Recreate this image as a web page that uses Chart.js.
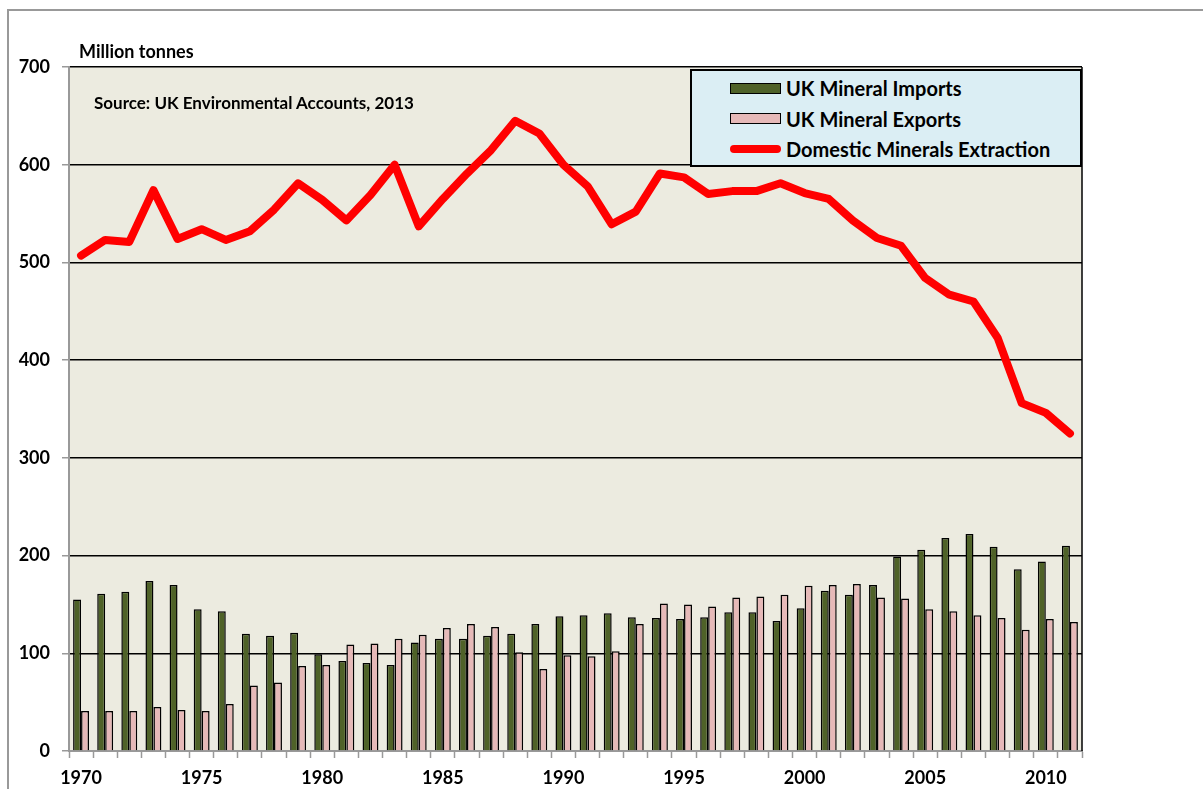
<!DOCTYPE html>
<html>
<head>
<meta charset="utf-8">
<script src="https://cdn.jsdelivr.net/npm/chart.js@4/dist/chart.umd.min.js"></script>
<style>
  body { margin: 0; background: #fff; font-family: Lato, "Open Sans", sans-serif; }
  #wrap { position: relative; width: 1203px; height: 789px; overflow: hidden; }
  #frame { position: absolute; left: 7px; top: 9px; width: 1300px; height: 900px;
    border-left: 2px solid #999; border-top: 2px solid #999; }
  canvas { position: absolute; left: 0; top: 0; }
  .txt { position: absolute; font-weight: bold; color: #000; white-space: nowrap; }
  #unit { left: 79px; top: 40px; font-size: 18px; }
  #source { left: 94px; top: 92px; font-size: 17px; }
  #legend { position: absolute; left: 690px; top: 69px; width: 388px; height: 94px;
    background: #dbeef4; border: 2px solid #000; }
  .item { position: absolute; left: 38px; height: 22px; display: flex; align-items: center;
    font-weight: bold; font-size: 20px; }
  .sw { width: 51px; height: 11px; margin-right: 5px; box-sizing: border-box; }
</style>
</head>
<body>
<div id="wrap">
  <div id="frame"></div>
  <canvas id="chart" width="1203" height="789"></canvas>
  <div class="txt" id="unit">Million tonnes</div>
  <div class="txt" id="source">Source: UK Environmental Accounts, 2013</div>
  <div id="legend"></div>
</div>
<script>
const years = [
  1970, 1971, 1972, 1973, 1974, 1975, 1976, 1977, 1978, 1979,
  1980, 1981, 1982, 1983, 1984, 1985, 1986, 1987, 1988, 1989,
  1990, 1991, 1992, 1993, 1994, 1995, 1996, 1997, 1998, 1999,
  2000, 2001, 2002, 2003, 2004, 2005, 2006, 2007, 2008, 2009,
  2010, 2011,
];

const imports = [
  155, 161, 163, 174, 170, 145, 143, 120, 118, 121,
  99, 92, 90, 88, 111, 115, 115, 118, 120, 130,
  138, 139, 141, 137, 136, 135, 137, 142, 142, 133,
  146, 164, 160, 170, 199, 206, 218, 222, 209, 186,
  194, 210,
];

const exportsUK = [
  41, 41, 41, 45, 42, 41, 48, 67, 70, 87,
  88, 109, 110, 115, 119, 126, 130, 127, 101, 84,
  98, 97, 102, 130, 151, 150, 148, 157, 158, 160,
  169, 170, 171, 157, 156, 145, 143, 139, 136, 124,
  135, 132,
];

const extraction = [
  507, 523, 521, 574, 524, 534, 523, 532, 554, 581,
  564, 543, 569, 600, 537, 565, 591, 615, 645, 632,
  600, 578, 539, 552, 591, 587, 570, 573, 573, 581,
  571, 565, 543, 525, 517, 484, 467, 460, 423, 356,
  346, 325,
];

const yTicks = [0, 100, 200, 300, 400, 500, 600, 700];

const COLORS = {
  imports: "#4f6228",
  exports: "#e6b9b8",
  line: "#ff0000",
  plot: "#ecebe0",
  axis: "#999999",
};

const FONT = { family: "Lato, 'Open Sans', sans-serif", size: 18, weight: "bold" };

// plot background and the black right edge of the plot area
const plotFrame = {
  id: "plotFrame",
  beforeDraw(chart) {
    const { ctx, chartArea: a } = chart;
    ctx.save();
    ctx.fillStyle = COLORS.plot;
    ctx.fillRect(a.left, a.top, a.right - a.left, a.bottom - a.top);
    ctx.restore();
  },
  afterDatasetsDraw(chart) {
    const { ctx, chartArea: a } = chart;
    ctx.save();
    ctx.strokeStyle = "#000";
    ctx.lineWidth = 1.5;
    ctx.beginPath();
    ctx.moveTo(a.right, a.top);
    ctx.lineTo(a.right, a.bottom);
    ctx.stroke();
    ctx.restore();
  },
};

const chart = new Chart(document.getElementById("chart"), {
  type: "bar",
  data: {
    labels: years,
    datasets: [
      {
        label: "UK Mineral Imports",
        data: imports,
        backgroundColor: COLORS.imports,
        borderColor: "#000",
        borderWidth: 1.5,
        categoryPercentage: 0.66,
        barPercentage: 1,
        order: 1,
      },
      {
        label: "UK Mineral Exports",
        data: exportsUK,
        backgroundColor: COLORS.exports,
        borderColor: "#000",
        borderWidth: 1.5,
        categoryPercentage: 0.66,
        barPercentage: 1,
        order: 1,
      },
      {
        type: "line",
        label: "Domestic Minerals Extraction",
        data: extraction,
        borderColor: COLORS.line,
        backgroundColor: COLORS.line,
        borderWidth: 8,
        pointRadius: 0,
        tension: 0,
        borderCapStyle: "round",
        borderJoinStyle: "round",
        order: 0,
      },
    ],
  },
  options: {
    responsive: false,
    animation: false,
    layout: { padding: { top: 67, right: 121, left: 0, bottom: 0 } },
    plugins: { legend: { display: false }, tooltip: { enabled: false } },
    scales: {
      x: {
        grid: {
          drawOnChartArea: false,
          tickLength: 7,
          tickColor: COLORS.axis,
          tickWidth: 1.5,
        },
        border: { color: COLORS.axis, width: 2 },
        ticks: {
          autoSkip: false,
          maxRotation: 0,
          color: "#000",
          font: FONT,
          padding: 9,
          callback: function (v, i) {
            const y = years[i];
            return y % 5 === 0 ? String(y) : "";
          },
        },
        afterFit: (s) => { s.height = 38; },
      },
      y: {
        min: 0,
        max: 700,
        afterBuildTicks: (s) => { s.ticks = yTicks.map((v) => ({ value: v })); },
        grid: {
          color: (c) => (c.tick && c.tick.value === 0 ? COLORS.axis : "#000"),
          lineWidth: 1.5,
          tickLength: 7,
          tickColor: COLORS.axis,
        },
        border: { color: COLORS.axis, width: 2 },
        ticks: { color: "#000", font: FONT, padding: 12 },
        afterFit: (s) => { s.width = 69; },
      },
    },
  },
  plugins: [plotFrame],
});

// legend built from the chart's datasets
const legend = document.getElementById("legend");
chart.data.datasets.forEach((ds, i) => {
  const item = document.createElement("div");
  item.className = "item";
  item.style.top = 6 + i * 30.5 + "px";
  const sw = document.createElement("span");
  sw.className = "sw";
  if (ds.type === "line") {
    sw.style.background = ds.borderColor;
    sw.style.height = "8px";
    sw.style.borderRadius = "4px";
  } else {
    sw.style.background = ds.backgroundColor;
    sw.style.border = "1.5px solid #000";
  }
  item.appendChild(sw);
  item.appendChild(document.createTextNode(ds.label));
  legend.appendChild(item);
});
</script>
</body>
</html>
